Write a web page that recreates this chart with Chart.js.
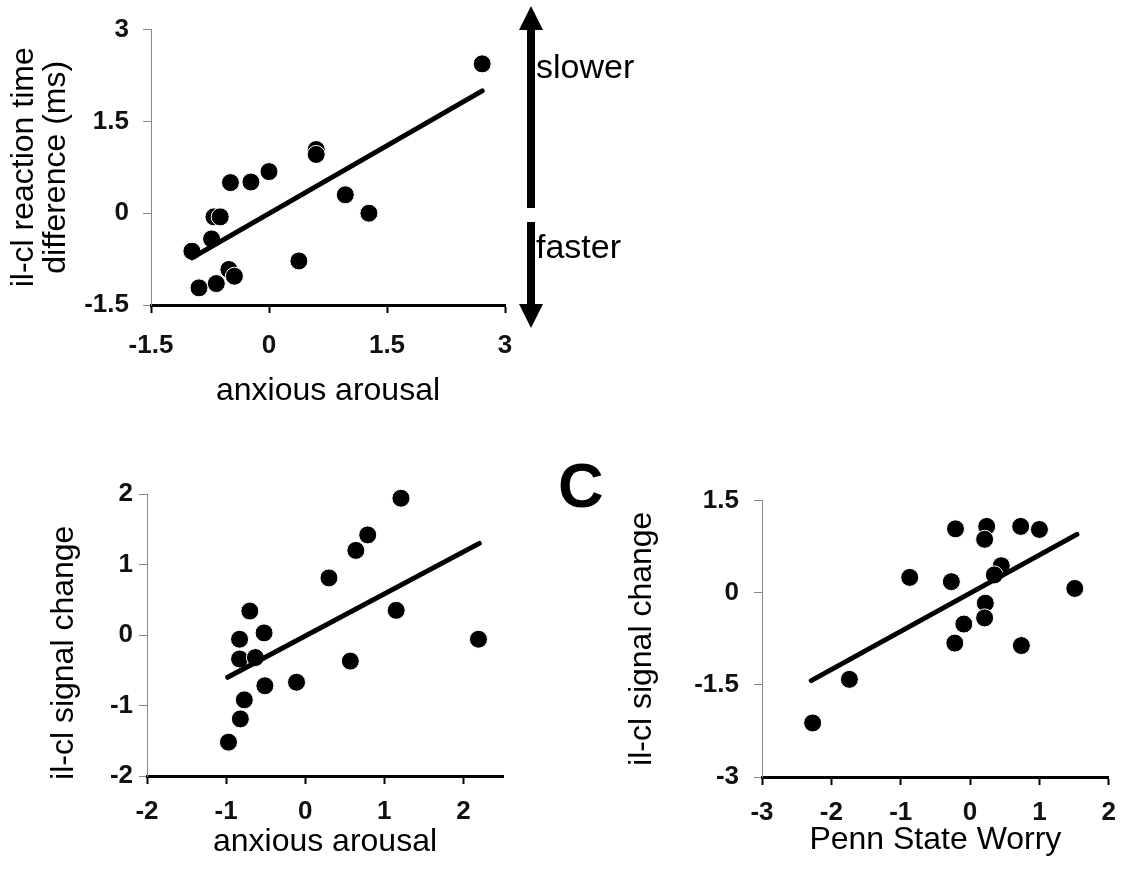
<!DOCTYPE html>
<html>
<head>
<meta charset="utf-8">
<script src="https://cdn.jsdelivr.net/npm/chart.js@4.4.1/dist/chart.umd.min.js"></script>
<style>
  body { margin: 0; background: #fff; }
  #page { position: relative; width: 1128px; height: 873px; overflow: hidden; font-family: "Liberation Sans", Arial, sans-serif; }
  .box { position: absolute; }
  .note { position: absolute; line-height: 1; color: #000; white-space: nowrap; }
</style>
</head>
<body>
<div id="page">
  <div class="box" style="left:0;top:0;width:700px;height:420px"><canvas id="chartA"></canvas></div>
  <div class="box" style="left:0;top:470px;width:560px;height:403px"><canvas id="chartB"></canvas></div>
  <div class="box" style="left:560px;top:470px;width:568px;height:403px"><canvas id="chartC"></canvas></div>
  <div class="note" style="left:536px;top:49px;font-size:34px">slower</div>
  <div class="note" style="left:536px;top:229px;font-size:34px">faster</div>
  <div class="note" style="left:558px;top:454px;font-size:63px;font-weight:bold">C</div>
</div>
<script>
// panel A: reaction time vs anxious arousal
const aX = [2.71, 0.60, 0.60, 0.0, -0.23, -0.49, -0.70, -0.62, -0.73, -0.98, -0.51, -0.44, -0.67, -0.89, 0.38, 0.97, 1.27];
const aY = [2.44, 1.04, 0.96, 0.68, 0.51, 0.50, -0.06, -0.06, -0.42, -0.62, -0.92, -1.03, -1.15, -1.22, -0.78, 0.30, 0.00];
const aFitX = [-0.98, 2.71];
const aFitY = [-0.73, 2.0];
const aTicksX = [-1.5, 0, 1.5, 3];
const aTicksY = [-1.5, 0, 1.5, 3];

// panel B: signal change vs anxious arousal
const bX = [1.21, 0.79, 0.64, 0.30, 1.15, 2.19, 0.57, -0.11, -0.70, -0.52, -0.83, -0.83, -0.63, -0.51, -0.77, -0.82, -0.97];
const bY = [1.94, 1.42, 1.20, 0.81, 0.35, -0.06, -0.37, -0.67, 0.34, 0.03, -0.06, -0.34, -0.32, -0.72, -0.92, -1.19, -1.52];
const bFitX = [-0.98, 2.20];
const bFitY = [-0.60, 1.30];
const bTicksX = [-2, -1, 0, 1, 2];
const bTicksY = [-2, -1, 0, 1, 2];

// panel C: signal change vs Penn State Worry
const cX = [-0.21, 0.24, 0.21, 0.73, 1.00, -0.87, -0.27, 0.45, 0.35, 1.51, 0.22, 0.21, -0.09, -0.22, 0.74, -1.74, -2.27];
const cY = [1.04, 1.08, 0.87, 1.08, 1.03, 0.25, 0.18, 0.44, 0.29, 0.07, -0.17, -0.41, -0.51, -0.82, -0.86, -1.41, -2.12];
const cFitX = [-2.29, 1.54];
const cFitY = [-1.43, 0.95];
const cTicksX = [-3, -2, -1, 0, 1, 2];
const cTicksY = [-3, -1.5, 0, 1.5];

const FONT = '"Liberation Sans", Arial, sans-serif';

function pairs(xs, ys) {
    return xs.map((x, i) => ({ x: x, y: ys[i] }));
}

function useTicks(values) {
    return function(scale) {
        scale.ticks = values.map(v => ({ value: v }));
    };
}

function fixSize(prop, size) {
    return function(scale) { scale[prop] = size; };
}

// arrows to the right of panel A
const arrowPlugin = {
    id: 'arrows',
    afterDraw(chart) {
        const ctx = chart.ctx;
        const cx = 531;
        ctx.save();
        ctx.fillStyle = '#000';
        ctx.fillRect(cx - 4, 28, 8, 180);
        ctx.beginPath();
        ctx.moveTo(cx, 6); ctx.lineTo(cx + 12, 30); ctx.lineTo(cx - 12, 30);
        ctx.closePath(); ctx.fill();
        ctx.fillRect(cx - 4, 222, 8, 84);
        ctx.beginPath();
        ctx.moveTo(cx, 328); ctx.lineTo(cx + 12, 304); ctx.lineTo(cx - 12, 304);
        ctx.closePath(); ctx.fill();
        ctx.restore();
    }
};

function makeChart(id, p) {
    return new Chart(document.getElementById(id), {
        type: 'scatter',
        data: {
            datasets: [
                {
                    data: pairs(p.fitX, p.fitY),
                    showLine: true,
                    borderColor: '#000',
                    borderWidth: 5,
                    borderCapStyle: 'round',
                    pointRadius: 0,
                    clip: false,
                    order: 0
                },
                {
                    data: pairs(p.xs, p.ys),
                    backgroundColor: '#000',
                    borderColor: '#fff',
                    borderWidth: 1,
                    pointRadius: 9,
                    clip: false,
                    order: 1
                }
            ]
        },
        options: {
            responsive: true,
            maintainAspectRatio: false,
            animation: false,
            layout: { padding: p.padding },
            plugins: { legend: { display: false }, tooltip: { enabled: false } },
            scales: {
                x: {
                    type: 'linear',
                    min: p.xMin, max: p.xMax,
                    afterBuildTicks: useTicks(p.ticksX),
                    afterFit: fixSize('height', p.xHeight),
                    border: { display: true, color: '#000', width: 3 },
                    grid: { drawOnChartArea: false, drawTicks: true, tickLength: 8, tickColor: '#000', tickWidth: 2 },
                    ticks: { color: '#111', padding: p.xPad, maxRotation: 0, font: { family: FONT, size: 26, weight: 'bold' } },
                    title: { display: true, text: p.xTitle, color: '#000', padding: { top: 0, bottom: p.xTitlePad }, font: { family: FONT, size: 32, lineHeight: 1.0 } }
                },
                y: {
                    type: 'linear',
                    min: p.yMin, max: p.yMax,
                    afterBuildTicks: useTicks(p.ticksY),
                    afterFit: fixSize('width', p.yWidth),
                    border: { display: true, color: '#888', width: 1 },
                    grid: { drawOnChartArea: false, drawTicks: true, tickLength: 8, tickColor: '#888', tickWidth: 1 },
                    ticks: { color: '#111', padding: p.yPad, font: { family: FONT, size: 26, weight: 'bold' } },
                    title: { display: true, text: p.yTitle, color: '#000', padding: { top: p.yTitlePad, bottom: 0 }, font: { family: FONT, size: 32, lineHeight: 1.0 } }
                }
            }
        },
        plugins: p.plugins || []
    });
}

makeChart('chartA', {
    xs: aX, ys: aY, fitX: aFitX, fitY: aFitY, ticksX: aTicksX, ticksY: aTicksY,
    xMin: -1.5, xMax: 3, yMin: -1.5, yMax: 3,
    padding: { left: 0, top: 28, right: 195, bottom: 0 },
    yWidth: 151, xHeight: 115, xPad: 17, yPad: 14,
    xTitle: 'anxious arousal', xTitlePad: 13,
    yTitle: ['il-cl reaction time', 'difference (ms)'], yTitlePad: 8,
    plugins: [arrowPlugin]
});

// trailing spaces nudge this title a little lower, as in the original
makeChart('chartB', {
    xs: bX, ys: bY, fitX: bFitX, fitY: bFitY, ticksX: bTicksX, ticksY: bTicksY,
    xMin: -2, xMax: 2.5, yMin: -2, yMax: 2,
    padding: { left: 0, top: 24, right: 57, bottom: 0 },
    yWidth: 147, xHeight: 97, xPad: 12, yPad: 6,
    xTitle: 'anxious arousal', xTitlePad: 15,
    yTitle: 'il-cl signal change    ', yTitlePad: 48
});

makeChart('chartC', {
    xs: cX, ys: cY, fitX: cFitX, fitY: cFitY, ticksX: cTicksX, ticksY: cTicksY,
    xMin: -3, xMax: 2, yMin: -3, yMax: 1.5,
    padding: { left: 0, top: 24, right: 11, bottom: 0 },
    yWidth: 202, xHeight: 96, xPad: 12, yPad: 15,
    xTitle: 'Penn State Worry', xTitlePad: 17,
    yTitle: 'il-cl signal change', yTitlePad: 66
});
</script>
</body>
</html>
